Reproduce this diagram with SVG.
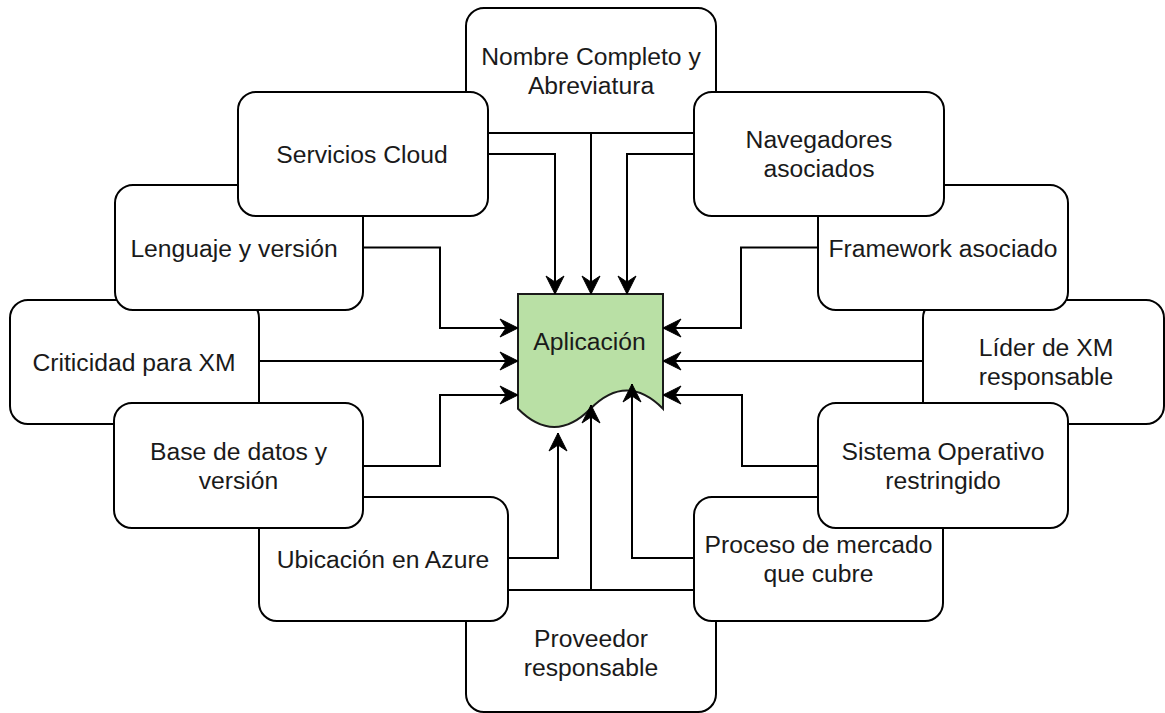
<svg xmlns="http://www.w3.org/2000/svg" width="1165" height="713" viewBox="0 0 1165 713">
<style>
.box{fill:#ffffff;stroke:#000000;stroke-width:2}
.lbl{font-family:"Liberation Sans",Arial,Helvetica,sans-serif;font-size:24.7px;fill:#1a1a1a;text-anchor:middle}
.edge{fill:none;stroke:#000000;stroke-width:2;marker-end:url(#arr)}
.doc{fill:#b9e0a5;stroke:#1a1a1a;stroke-width:2}
</style>
<defs>
<marker id="arr" markerUnits="userSpaceOnUse" markerWidth="22" markerHeight="22" viewBox="-19 -11 22 22" refX="0" refY="0" orient="auto" overflow="visible">
<path d="M0,0 L-18,-9 L-12,0 L-18,9 Z" fill="#000000" stroke="#000000" stroke-width="1"/>
</marker>
</defs>
<rect width="1165" height="713" fill="#ffffff"/>

<g id="criticidad">
<rect class="box" x="10" y="300" width="249" height="124" rx="18"/>
<text class="lbl" x="134" y="371">Criticidad para XM</text>
</g>
<g id="lider">
<rect class="box" x="923" y="300" width="241" height="124" rx="18"/>
<text class="lbl" x="1046" y="356"><tspan x="1046">Líder de XM</tspan><tspan x="1046" dy="29">responsable</tspan></text>
</g>
<g id="proveedor">
<rect class="box" x="466" y="590" width="250" height="122" rx="18"/>
<text class="lbl" x="591" y="647"><tspan x="591">Proveedor</tspan><tspan x="591" dy="29">responsable</tspan></text>
</g>
<g id="nombre">
<rect class="box" x="466" y="8" width="250" height="125" rx="18"/>
<text class="lbl" x="591" y="65"><tspan x="591">Nombre Completo y</tspan><tspan x="591" dy="29">Abreviatura</tspan></text>
</g>
<g id="lenguaje">
<rect class="box" x="115" y="185" width="248" height="125" rx="18"/>
<text class="lbl" x="234" y="257">Lenguaje y versión</text>
</g>
<g id="framework">
<rect class="box" x="818" y="185" width="250" height="125" rx="18"/>
<text class="lbl" x="943" y="256.5">Framework asociado</text>
</g>
<g id="ubicacion">
<rect class="box" x="259" y="497" width="249" height="124" rx="18"/>
<text class="lbl" x="383" y="568">Ubicación en Azure</text>
</g>
<g id="proceso">
<rect class="box" x="694" y="497" width="249" height="124" rx="18"/>
<text class="lbl" x="818.5" y="553"><tspan x="818.5">Proceso de mercado</tspan><tspan x="818.5" dy="29">que cubre</tspan></text>
</g>
<g id="servicios">
<rect class="box" x="238" y="92" width="250" height="124" rx="18"/>
<text class="lbl" x="362" y="163">Servicios Cloud</text>
</g>
<g id="navegadores">
<rect class="box" x="694" y="92" width="250" height="124" rx="18"/>
<text class="lbl" x="819" y="148"><tspan x="819">Navegadores</tspan><tspan x="819" dy="29">asociados</tspan></text>
</g>
<g id="basedatos">
<rect class="box" x="114" y="403" width="249" height="125" rx="18"/>
<text class="lbl" x="238.5" y="460"><tspan x="238.5">Base de datos y</tspan><tspan x="238.5" dy="29">versión</tspan></text>
</g>
<g id="sistema">
<rect class="box" x="818" y="403" width="250" height="125" rx="18"/>
<text class="lbl" x="943" y="460"><tspan x="943">Sistema Operativo</tspan><tspan x="943" dy="29">restringido</tspan></text>
</g>

<g id="aplicacion">
<path class="doc" d="M518,294 H663 V408.75 Q626.75,372.3 590.5,408.75 Q554.25,445.2 518,408.75 Z"/>
<text class="lbl" x="589.5" y="350">Aplicación</text>
</g>

<g id="connectors">
<path class="edge" d="M591,133 V294"/>
<path class="edge" d="M488,154 H555 V294"/>
<path class="edge" d="M694,154 H627 V294"/>
<path class="edge" d="M363,247.5 H440 V328 H518"/>
<path class="edge" d="M259,361 H518"/>
<path class="edge" d="M363,466 H440 V395 H518"/>
<path class="edge" d="M508,558 H558 V433"/>
<path class="edge" d="M591,590 V405"/>
<path class="edge" d="M694,558 H632 V384"/>
<path class="edge" d="M818,466 H742 V395 H663"/>
<path class="edge" d="M923,361 H663"/>
<path class="edge" d="M818,247.5 H741 V328 H663"/>
</g>
</svg>
